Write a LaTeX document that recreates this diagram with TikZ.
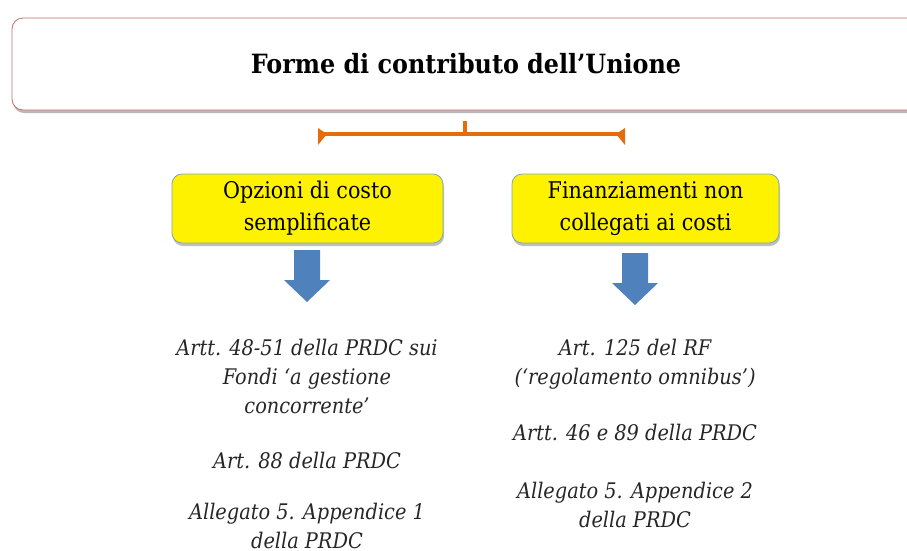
\documentclass[tikz,border=0pt]{standalone}
\usepackage{fontspec}
\setmainfont{DejaVu Serif Condensed}
\usetikzlibrary{positioning, shadows}

\definecolor{boxedge}{HTML}{C0706C}
\definecolor{bracketorange}{HTML}{E46C0A}
\definecolor{arrowblue}{HTML}{4F81BD}
\definecolor{optedge}{HTML}{7FA6B8}

\begin{document}
\begin{tikzpicture}[x=1pt, y=-1pt,
  titlebox/.style={draw=boxedge, line width=0.8pt, fill=white, rounded corners=11pt, minimum width=908pt, minimum height=92pt, drop shadow={shadow xshift=1pt, shadow yshift=-3pt, fill=black!55}, font=\fontsize{26.5}{30}\selectfont\bfseries},
  optbox/.style={draw=optedge, line width=0.8pt, fill=yellow, rounded corners=10pt, minimum height=69pt, align=center, drop shadow={shadow xshift=1pt, shadow yshift=-3pt, fill=black!50}, font=\fontsize{23}{32}\selectfont},
  reftext/.style={align=center, inner sep=0pt, font=\fontsize{21.5}{29}\selectfont\itshape, text=black!85}
]
\useasboundingbox (0,0) rectangle (907,550);

% title
\node[titlebox] (unione) at (466,64) {Forme di contributo dell'Unione};

% bracket
\coordinate (brtop) at (465,121);
\coordinate (brmid) at (465,134);
\coordinate (brleft) at (321,134);
\coordinate (brright) at (622,134);
\draw[bracketorange, line width=3.5pt] (brtop) -- (brmid);
\draw[bracketorange, line width=3.5pt] (brleft) -- (brright);
\fill[bracketorange] (brleft) ++(-3,-6) -- ++(9,6) -- ++(-9,11) -- cycle;
\fill[bracketorange] (brright) ++(3,-6) -- ++(-9,6) -- ++(9,11) -- cycle;

% the two options
\node[optbox, minimum width=271pt] (opzioni) at (307.5,208.5) {Opzioni di costo\\semplificate};
\node[optbox, minimum width=267pt] (finanz) at (645.5,208.5) {Finanziamenti non\\collegati ai costi};

% arrows
\coordinate (arrL) at (307,250);
\coordinate (arrR) at (635,253);
\fill[arrowblue] (arrL) ++(-13,0) -- ++(0,30) -- ++(-10,0) -- ++(23,22) -- ++(23,-22) -- ++(-10,0) -- ++(0,-30) -- cycle;
\fill[arrowblue] (arrR) ++(-13,0) -- ++(0,30) -- ++(-10,0) -- ++(23,22) -- ++(23,-22) -- ++(-10,0) -- ++(0,-30) -- cycle;

% references, left
\node[reftext] (artt4851) at (307,376) {Artt. 48-51 della PRDC sui\\Fondi `a gestione\\concorrente'};
\node[reftext] (art88) at (307,460) {Art. 88 della PRDC};
\node[reftext] (allegato1) at (307,526) {Allegato 5. Appendice 1\\della PRDC};

% references, right
\node[reftext] (art125) at (635,364.5) {Art. 125 del RF\\(`regolamento omnibus')};
\node[reftext] (artt4689) at (635,432) {Artt. 46 e 89 della PRDC};
\node[reftext] (allegato2) at (635,504.5) {Allegato 5. Appendice 2\\della PRDC};

\end{tikzpicture}
\end{document}
